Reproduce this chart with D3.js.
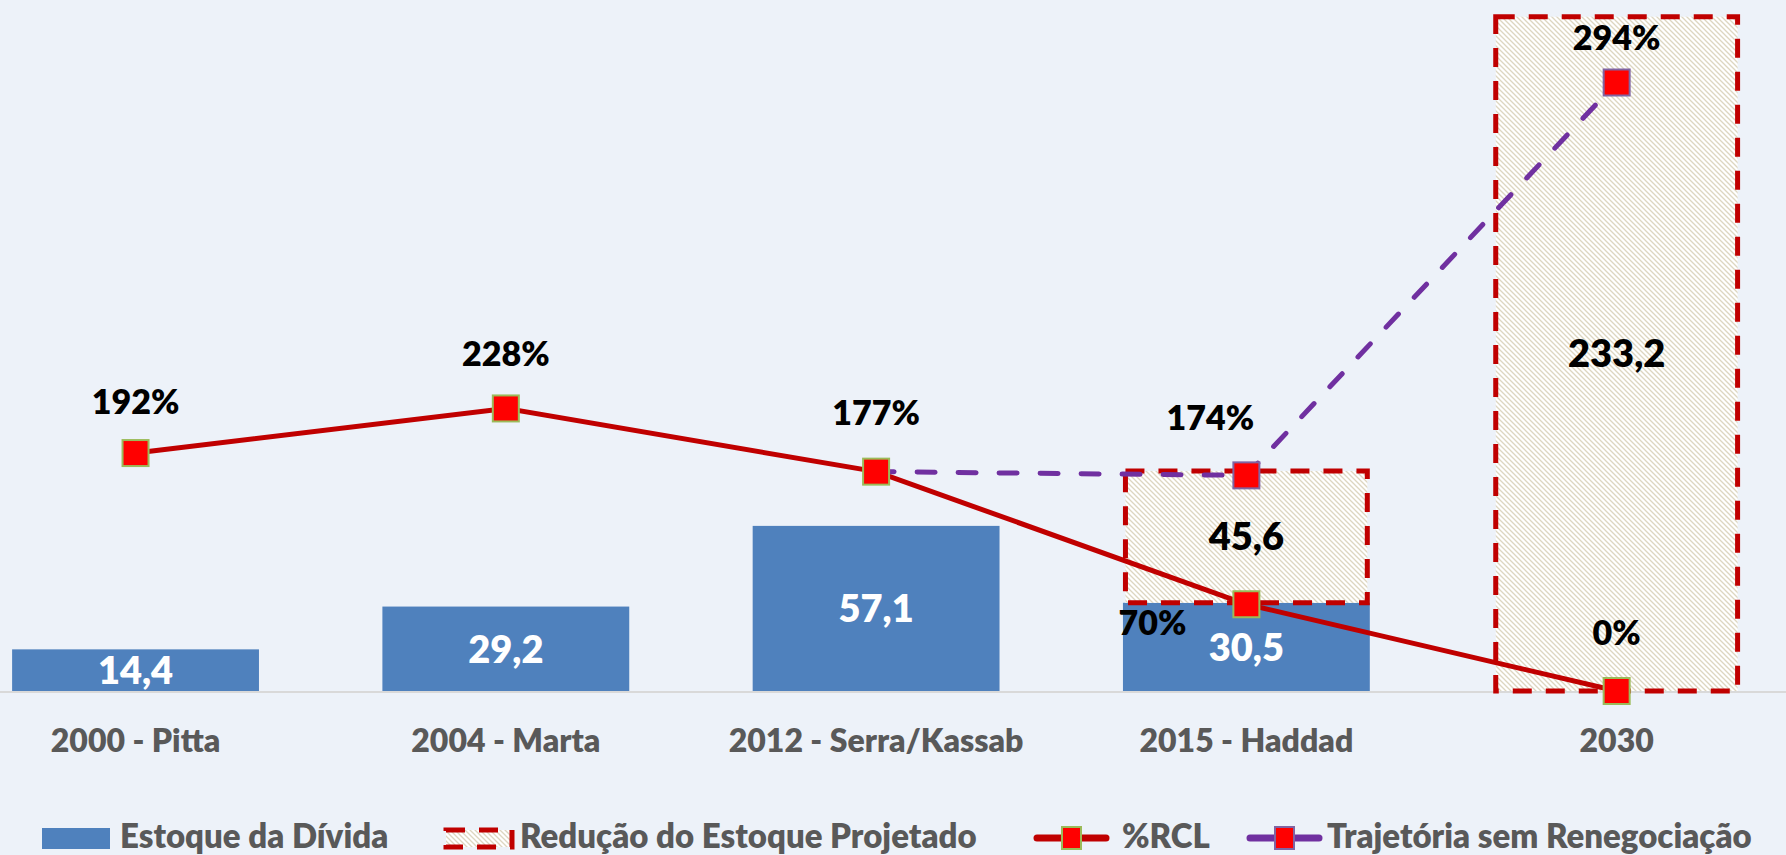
<!DOCTYPE html>
<meta charset="utf-8">
<style>
  body { margin: 0; background: #EDF2F9; }
  svg { display: block; font-family: Lato, "Open Sans", sans-serif; font-weight: 800; }
  .cat { fill: #595959; font-size: 32px; }
  .legend text { fill: #595959; font-size: 33px; }
  .pct { fill: #000; font-size: 34px; }
  .val { font-size: 38px; }
</style>
<svg width="1786" height="855"></svg>
<script src="https://cdnjs.cloudflare.com/ajax/libs/d3/7.8.5/d3.min.js"></script>
<script>

var categories = ["2000 - Pitta", "2004 - Marta", "2012 - Serra/Kassab", "2015 - Haddad", "2030"];
var estoque = [14.4, 29.2, 57.1, 30.5, 0];          // Estoque da Dívida
var reducao = [0, 0, 0, 45.6, 233.2];               // Redução do Estoque Projetado
var rcl = [192, 228, 177, 70, 0];                   // %RCL
var rclLabels = ["192%", "228%", "177%", "70%", "0%"];
var trajetoria = [null, null, 177, 174, 491];       // Trajetória sem Renegociação (plotted)
var trajLabels = [null, null, null, "174%", "294%"];
var legendNames = ["Estoque da Dívida", "Redução do Estoque Projetado", "%RCL", "Trajetória sem Renegociação"];

var svg = d3.select("svg"),
    base = 691;

var x = d3.scaleBand().domain(categories).range([-49.6, 1801.8])
    .paddingInner(1 / 3).paddingOuter(1 / 6);
var y = d3.scaleLinear().domain([0, 240]).range([base, -3]);    // bars
var y2 = d3.scaleLinear().domain([0, 560]).range([base, -3]);   // percent lines
var cx = function(i) { return x(categories[i]) + x.bandwidth() / 2; };

var defs = svg.append("defs");
var pat = defs.append("pattern").attr("id", "hatch")
    .attr("patternUnits", "userSpaceOnUse").attr("width", 5).attr("height", 5);
pat.append("rect").attr("width", 5).attr("height", 5).attr("fill", "#ffffff");
pat.append("path").attr("d", "M-1,-1L6,6M-1,4L1,6M4,-1L6,1")
    .attr("stroke", "#ddd6c0").attr("stroke-width", 1.3);

// axis line
svg.append("line").attr("x1", 0).attr("x2", 1786).attr("y1", base + 1).attr("y2", base + 1)
    .attr("stroke", "#d9d9d9").attr("stroke-width", 2);

// stock bars
estoque.forEach(function(d, i) {
  if (!d) return;
  svg.append("rect").attr("class", "estoque")
      .attr("x", x(categories[i]))
      .attr("y", y(d))
      .attr("width", x.bandwidth())
      .attr("height", base - y(d))
      .attr("fill", "#4F81BD");
});

// projected reduction, stacked
var redG = svg.append("g");
reducao.forEach(function(d, i) {
  if (!d) return;
  redG.append("rect")
      .attr("x", x(categories[i]) + 2.5).attr("width", x.bandwidth() - 5)
      .attr("y", y(estoque[i] + d)).attr("height", y(estoque[i]) - y(estoque[i] + d))
      .attr("fill", "url(#hatch)")
      .attr("stroke", "#C00000").attr("stroke-width", 5)
      .attr("stroke-dasharray", "19,14");
  redG.append("text").attr("class", "val")
      .attr("x", cx(i)).attr("y", (y(estoque[i] + d) + y(estoque[i])) / 2 + 13)
      .attr("text-anchor", "middle").attr("fill", "#000")
      .text(d3.format(".1f")(d).replace(".", ","));
});

// bar values
estoque.forEach(function(d, i) {
  if (!d) return;
  svg.append("text").attr("class", "val")
      .attr("x", cx(i)).attr("y", (y(d) + base) / 2 + 14)
      .attr("text-anchor", "middle").attr("fill", "#fff")
      .text(d3.format(".1f")(d).replace(".", ","));
});

// lines
var line = d3.line().defined(function(d) { return d != null; })
    .x(function(d, i) { return cx(i); })
    .y(function(d) { return y2(d); });

svg.append("path").datum(rcl).attr("d", line)
    .attr("fill", "none").attr("stroke", "#C00000").attr("stroke-width", 5);
svg.append("path").datum(trajetoria).attr("d", line)
    .attr("fill", "none").attr("stroke", "#7030A0").attr("stroke-width", 5)
    .attr("stroke-linecap", "round").attr("stroke-dasharray", "18,23");

function markers(vals, border) {
  vals.forEach(function(d, i) {
    if (d == null) return;
    svg.append("rect").attr("x", cx(i) - 13).attr("y", y2(d) - 13)
        .attr("width", 26).attr("height", 26)
        .attr("fill", "#FF0000").attr("stroke", border).attr("stroke-width", 2);
  });
}
markers(trajetoria.map(function(d, i) { return i < 3 ? null : d; }), "#8064A2");
markers(rcl, "#9BBB59");

// percentage labels (offset from their marker)
var rclOff = [[0, -51], [0, -54], [0, -59], [-94, 19], [0, -58]];
rcl.forEach(function(d, i) {
  svg.append("text").attr("class", "pct").attr("text-anchor", "middle")
      .attr("x", cx(i) + rclOff[i][0]).attr("y", y2(d) + rclOff[i][1] + 12)
      .text(rclLabels[i]);
});
var trajOff = [null, null, null, [-36, -57], [0, -45]];
trajetoria.forEach(function(d, i) {
  if (!trajLabels[i]) return;
  svg.append("text").attr("class", "pct").attr("text-anchor", "middle")
      .attr("x", cx(i) + trajOff[i][0]).attr("y", y2(d) + trajOff[i][1] + 12)
      .text(trajLabels[i]);
});

// category labels
svg.selectAll("text.cat").data(categories).enter().append("text")
    .attr("class", "cat").attr("text-anchor", "middle")
    .attr("x", function(d, i) { return cx(i); })
    .attr("y", 752)
    .text(function(d) { return d; });

// legend
var legX = [42, 444, 1034, 1247], legTx = [120, 520, 1122, 1327], ly = 838;
var legend = svg.append("g").attr("class", "legend");
legend.append("rect").attr("x", legX[0]).attr("y", ly - 10).attr("width", 68).attr("height", 21)
    .attr("fill", "#4F81BD");
legend.append("rect").attr("x", legX[1] + 2).attr("y", ly - 8).attr("width", 66).attr("height", 17)
    .attr("fill", "url(#hatch)").attr("stroke", "#C00000").attr("stroke-width", 5)
    .attr("stroke-dasharray", "19,14");
[["#C00000", "#9BBB59"], ["#7030A0", "#8064A2"]].forEach(function(c, k) {
  var x0 = legX[2 + k];
  legend.append("line").attr("x1", x0 + 3).attr("x2", x0 + 72).attr("y1", ly).attr("y2", ly)
      .attr("stroke", c[0]).attr("stroke-width", 7).attr("stroke-linecap", "round");
  legend.append("rect").attr("x", x0 + 28).attr("y", ly - 11).attr("width", 19).attr("height", 22)
      .attr("fill", "#FF0000").attr("stroke", c[1]).attr("stroke-width", 2);
});
legend.selectAll("text").data(legendNames).enter().append("text")
    .attr("x", function(d, i) { return legTx[i]; })
    .attr("y", ly + 10)
    .text(function(d) { return d; });

</script>
